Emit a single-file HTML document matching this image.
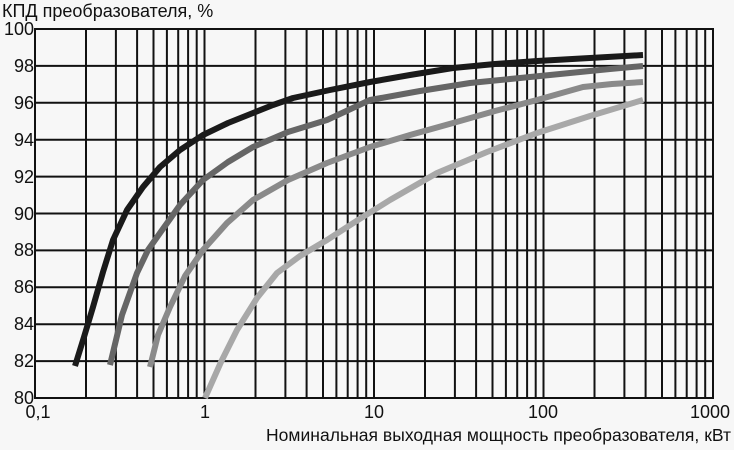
<!DOCTYPE html><html><head><style>body{margin:0;background:#f7f7f7}</style></head><body>
<svg width="734" height="445" xmlns="http://www.w3.org/2000/svg" font-family="Liberation Sans, sans-serif">
<rect width="734" height="445" fill="#f7f7f7"/>
<path stroke="#111" stroke-width="2" fill="none" d="
M86,29V398M115.9,29V398M137.1,29V398M153.5,29V398M166.9,29V398M178.2,29V398M188.1,29V398M196.7,29V398M204.5,29V398
M255.5,29V398M285.4,29V398M306.6,29V398M323,29V398M336.4,29V398M347.7,29V398M357.6,29V398M366.2,29V398M374,29V398
M425,29V398M454.9,29V398M476.1,29V398M492.5,29V398M505.9,29V398M517.2,29V398M527.1,29V398M535.7,29V398M543.5,29V398
M594.5,29V398M624.4,29V398M645.6,29V398M662,29V398M675.4,29V398M686.7,29V398M696.6,29V398M705.2,29V398
M35,65.9H713M35,102.8H713M35,139.7H713M35,176.6H713M35,213.5H713M35,250.4H713M35,287.3H713M35,324.2H713M35,361.1H713"/>
<rect x="35" y="29" width="678" height="369" fill="none" stroke="#111" stroke-width="2"/>
<g fill="none" stroke-linejoin="round" stroke-width="6">
<polyline stroke="#a8a8a8" points="205,398 221,362 237,330 257,298 277,273 300,256 327,240 358,220 390,200 437,173 487,152 537,133 590,116 643,100"/>
<polyline stroke="#8a8a8a" points="150,367 158,335 170,307 185,276 203,250 227,223 253,200 288,180 327,163 370,147 410,135 453,123 495,111 537,100 583,87 612,84 643,82"/>
<polyline stroke="#666" points="110,365 122,315 137,273 148,250 160,233 180,205 203,180 228,162 253,147 288,132 327,120 370,100 420,91 470,83 520,78 570,73 610,69 643,66"/>
<polyline stroke="#1a1a1a" points="75,366 84,337 93,307 103,272 113,240 127,210 143,187 160,167 180,150 203,135 228,123 253,113 273,105 293,98 330,90 370,82 410,75 453,68 495,64 537,61 590,58 643,55"/>
</g>
<g font-size="18" fill="#111" text-anchor="end">
<text x="34" y="35">100</text><text x="34" y="72">98</text><text x="34" y="109">96</text><text x="34" y="146">94</text><text x="34" y="183">92</text><text x="34" y="220">90</text><text x="34" y="256">88</text><text x="34" y="293">86</text><text x="34" y="330">84</text><text x="34" y="367">82</text><text x="34" y="404">80</text>
</g>
<g font-size="18" fill="#111" text-anchor="middle">
<text x="38" y="418">0,1</text><text x="205" y="418">1</text><text x="374" y="418">10</text><text x="543" y="418">100</text><text x="710" y="418">1000</text>
</g>
<text x="2" y="17" font-size="18" fill="#111">КПД преобразователя, %</text>
<text x="731" y="441" font-size="17.5" fill="#111" text-anchor="end" textLength="465">Номинальная выходная мощность преобразователя, кВт</text>
</svg></body></html>
